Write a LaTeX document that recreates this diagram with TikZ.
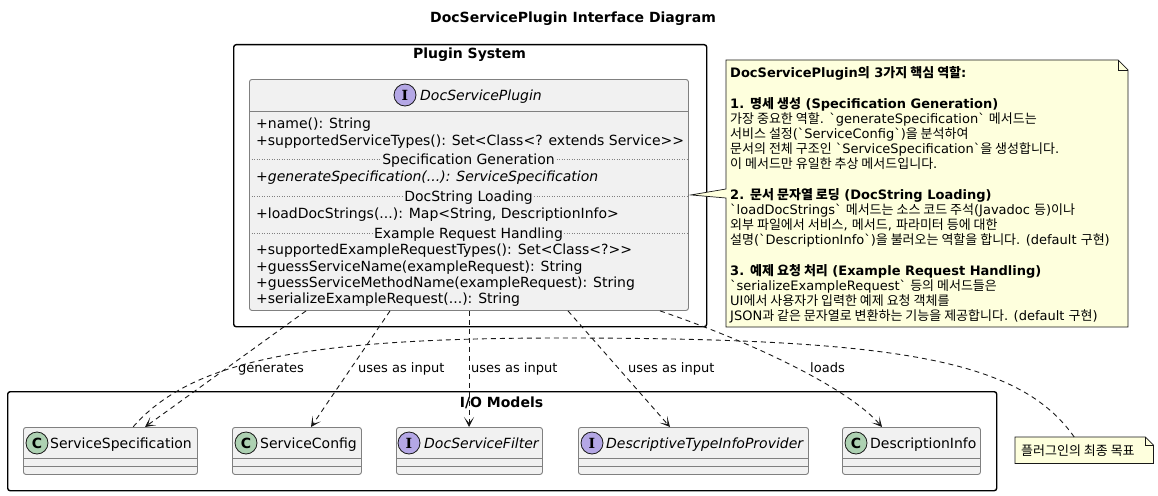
\documentclass[tikz,border=0pt]{standalone}
\usepackage{fontspec}
\setmainfont{DejaVu Sans}
\newfontfamily\krfont{Noto Sans CJK KR}
\newfontfamily\latfont{DejaVu Sans}
\newfontfamily\serifbold{DejaVu Serif}
\usetikzlibrary{arrows.meta,calc}
\definecolor{boxfill}{HTML}{F1F1F1}
\definecolor{boxline}{HTML}{181818}
\definecolor{clsline}{HTML}{808080}
\definecolor{ifill}{HTML}{B4A7E5}
\definecolor{cfill}{HTML}{ADD1B2}
\definecolor{notefill}{HTML}{FEFFDD}
\newcommand{\kr}[1]{{\krfont #1}}
\newcommand{\bq}{\symbol{96}}
\newcommand{\notefont}{\latfont\fontsize{13}{15}\selectfont}
\newcommand{\notefontb}{\latfont\bfseries\fontsize{13}{15}\selectfont}
\begin{document}
\begin{tikzpicture}[x=1pt,y=-1pt,
  pkg/.style={draw=black, line width=1.4pt, rounded corners=2.5pt, fill=white, inner sep=0pt, anchor=north west},
  clsbox/.style={draw=clsline, line width=0.9pt, fill=boxfill, rounded corners=2.5pt, inner sep=0pt, anchor=north west, minimum height=47pt},
  circI/.style={circle, draw=boxline, line width=0.8pt, fill=ifill, minimum size=22pt, inner sep=0pt, font=\serifbold\bfseries\fontsize{14}{14}\selectfont},
  circC/.style={circle, draw=boxline, line width=0.8pt, fill=cfill, minimum size=22pt, inner sep=0pt, font=\bfseries\fontsize{14}{14}\selectfont},
  txt/.style={inner sep=0pt, anchor=base west, font=\fontsize{14}{16}\selectfont},
  itxt/.style={inner sep=0pt, anchor=base west, font=\itshape\fontsize{14}{16}\selectfont},
  lbl/.style={inner sep=0pt, anchor=base west, font=\fontsize{13}{15}\selectfont},
  ntxt/.style={inner sep=0pt, anchor=base west, font=\notefont},
  ntxtb/.style={inner sep=0pt, anchor=base west, font=\notefontb},
  seplbl/.style={inner xsep=1pt, inner ysep=1pt, anchor=base, fill=boxfill, font=\fontsize{14}{16}\selectfont},
  sepline/.style={draw=clsline, line width=0.8pt, dash pattern=on 1pt off 1.5pt},
  divline/.style={draw=clsline, line width=0.9pt},
  dep/.style={draw=boxline, line width=0.9pt, dash pattern=on 5pt off 4pt, -{Stealth[length=10pt,width=10pt,inset=6pt]}},
  notelink/.style={draw=boxline, line width=0.9pt, dash pattern=on 5pt off 4pt},
  notebox/.style={draw=boxline, line width=0.7pt, fill=notefill},
  ttl/.style={inner sep=0pt, anchor=base, font=\bfseries\fontsize{14}{16}\selectfont}
]
\useasboundingbox (0,0) rectangle (1158,495);

% title
\node[ttl] (title) at (573,23) {DocServicePlugin Interface Diagram};

% packages
\node[pkg, minimum width=473pt, minimum height=282pt] (plugsys) at (233,44) {};
\node[ttl] (plugsyslbl) at (469.5,59) {Plugin System};
\node[pkg, minimum width=989pt, minimum height=99pt] (iomodels) at (7,391) {};
\node[ttl] (iolbl) at (501.5,407) {I/O Models};

% DocServicePlugin
\node[clsbox, minimum width=439pt, minimum height=231pt] (dsp) at (249,79) {};
\draw[divline] ($(dsp.north west)+(0,32)$) -- ($(dsp.north east)+(0,32)$);
\node[circI] (dspi) at (405,95) {I};
\node[itxt] (dspname) at (420,100) {DocServicePlugin};
\node[txt] (m1) at (256,128.3) {+name(): String};
\node[txt] (m2) at (256,145) {+supportedServiceTypes(): Set<Class<? extends Service>{}>};
\draw[sepline] ($(dsp.west)+(0,-35.5)$) -- ($(dsp.east)+(0,-35.5)$);
\node[seplbl] (s1) at (468.5,164) {Specification Generation};
\node[itxt] (m3) at (256,181) {+generateSpecification(...): ServiceSpecification};
\draw[sepline] ($(dsp.west)+(0,1.5)$) -- ($(dsp.east)+(0,1.5)$);
\node[seplbl] (s2) at (468.5,201) {DocString Loading};
\node[txt] (m4) at (256,218.3) {+loadDocStrings(...): Map<String, DescriptionInfo>};
\draw[sepline] ($(dsp.west)+(0,38.5)$) -- ($(dsp.east)+(0,38.5)$);
\node[seplbl] (s3) at (468.5,238) {Example Request Handling};
\node[txt] (m5) at (256,254.3) {+supportedExampleRequestTypes(): Set<Class<?>{}>};
\node[txt] (m6) at (256,271) {+guessServiceName(exampleRequest): String};
\node[txt] (m7) at (256,287) {+guessServiceMethodName(exampleRequest): String};
\node[txt] (m8) at (256,303.3) {+serializeExampleRequest(...): String};

% I/O classes
\node[clsbox, minimum width=174pt] (ss) at (23,427) {};
\node[clsbox, minimum width=129pt] (sc) at (232,427) {};
\node[clsbox, minimum width=146pt] (dsf) at (396,427) {};
\node[clsbox, minimum width=230pt] (dtip) at (578,427) {};
\node[clsbox, minimum width=138pt] (di) at (842,427) {};
\foreach \n in {ss,sc,dsf,dtip,di}{
  \draw[divline] ($(\n.north west)+(0,31)$) -- ($(\n.north east)+(0,31)$);
  \draw[divline] ($(\n.north west)+(0,39)$) -- ($(\n.north east)+(0,39)$);
}
\node[circC] (ssc) at ($(ss.north west)+(14,16)$) {C};
\node[txt] (sst) at ($(ss.north west)+(27,21)$) {ServiceSpecification};
\node[circC] (scc) at ($(sc.north west)+(14,16)$) {C};
\node[txt] (sct) at ($(sc.north west)+(28,21)$) {ServiceConfig};
\node[circI] (dsfc) at ($(dsf.north west)+(13,16)$) {I};
\node[itxt] (dsft) at ($(dsf.north west)+(28,21)$) {DocServiceFilter};
\node[circI] (dtipc) at ($(dtip.north west)+(14,16)$) {I};
\node[itxt] (dtipt) at ($(dtip.north west)+(28,21)$) {DescriptiveTypeInfoProvider};
\node[circC] (dic) at ($(di.north west)+(14,16)$) {C};
\node[txt] (dit) at ($(di.north west)+(28,21)$) {DescriptionInfo};

% dependencies
\draw[dep] ($(dsp.south west)+(57,0)$) -- ($(ss.north west)+(122,0)$);
\draw[dep] ($(dsp.south west)+(141,0)$) -- ($(sc.north west)+(79,0)$);
\draw[dep] ($(dsp.south west)+(220,0)$) -- ($(dsf.north west)+(73,0)$);
\draw[dep] ($(dsp.south west)+(319,0)$) -- ($(dtip.north west)+(92,0)$);
\draw[dep] ($(dsp.south west)+(411,0)$) .. controls (760,345) and (850,390) .. ($(di.north west)+(40,0)$);
\node[lbl] (l1) at (238,372) {generates};
\node[lbl] (l2) at (358,372) {uses as input};
\node[lbl] (l3) at (471,372) {uses as input};
\node[lbl] (l4) at (628,372) {uses as input};
\node[lbl] (l5) at (810,372) {loads};

% big note
\coordinate (ntip) at ($(dsp.east)+(2,0)$);
\draw[notebox] (726,60) -- (1118,60) -- (1128,70) -- (1128,327) -- (726,327) -- (726,198) -- (ntip) -- (726,189) -- cycle;
\draw[notebox, fill=none] (1118,60) -- (1118,70) -- (1128,70);
\node[ntxtb] (n0) at (730,77.7) {DocServicePlugin\kr{의} 3\kr{가지 핵심 역할}:};
\node[ntxtb] (n1) at (730,108.1) {1. \kr{명세 생성} (Specification Generation)};
\node[ntxt] (n2) at (730,123.3) {\kr{가장 중요한 역할}. \bq{}generateSpecification\bq{} \kr{메서드는}};
\node[ntxt] (n3) at (730,138.5) {\kr{서비스 설정}(\bq{}ServiceConfig\bq{})\kr{을 분석하여}};
\node[ntxt] (n4) at (730,153.7) {\kr{문서의 전체 구조인} \bq{}ServiceSpecification\bq{}\kr{을 생성합니다}.};
\node[ntxt] (n5) at (730,168.9) {\kr{이 메서드만 유일한 추상 메서드입니다}.};
\node[ntxtb] (n6) at (730,199.3) {2. \kr{문서 문자열 로딩} (DocString Loading)};
\node[ntxt] (n7) at (730,214.5) {\bq{}loadDocStrings\bq{} \kr{메서드는 소스 코드 주석}(Javadoc \kr{등})\kr{이나}};
\node[ntxt] (n8) at (730,229.7) {\kr{외부 파일에서 서비스}, \kr{메서드}, \kr{파라미터 등에 대한}};
\node[ntxt] (n9) at (730,244.9) {\kr{설명}(\bq{}DescriptionInfo\bq{})\kr{을 불러오는 역할을 합니다}. (default \kr{구현})};
\node[ntxtb] (n10) at (730,275.3) {3. \kr{예제 요청 처리} (Example Request Handling)};
\node[ntxt] (n11) at (730,290.5) {\bq{}serializeExampleRequest\bq{} \kr{등의 메서드들은}};
\node[ntxt] (n12) at (730,305.7) {UI\kr{에서 사용자가 입력한 예제 요청 객체를}};
\node[ntxt] (n13) at (730,320.9) {JSON\kr{과 같은 문자열로 변환하는 기능을 제공합니다}. (default \kr{구현})};

% small note
\node[inner sep=0pt, anchor=north west, minimum width=138pt, minimum height=26pt] (sn) at (1015,437) {};
\draw[notebox] (sn.north west) -- ($(sn.north east)+(-8,0)$) -- ($(sn.north east)+(0,8)$) -- (sn.south east) -- (sn.south west) -- cycle;
\draw[notebox, fill=none] ($(sn.north east)+(-8,0)$) -- ($(sn.north east)+(-8,8)$) -- ($(sn.north east)+(0,8)$);
\node[ntxt] (snt) at (1021,455) {\kr{플러그인의 최종 목표}};
\draw[notelink] ($(sn.north)+(-10,0)$) .. controls (1020,360) and (900,338) .. (560,338) .. controls (300,338) and (190,362) .. ($(ss.north west)+(110,0)$);
\end{tikzpicture}
\end{document}
